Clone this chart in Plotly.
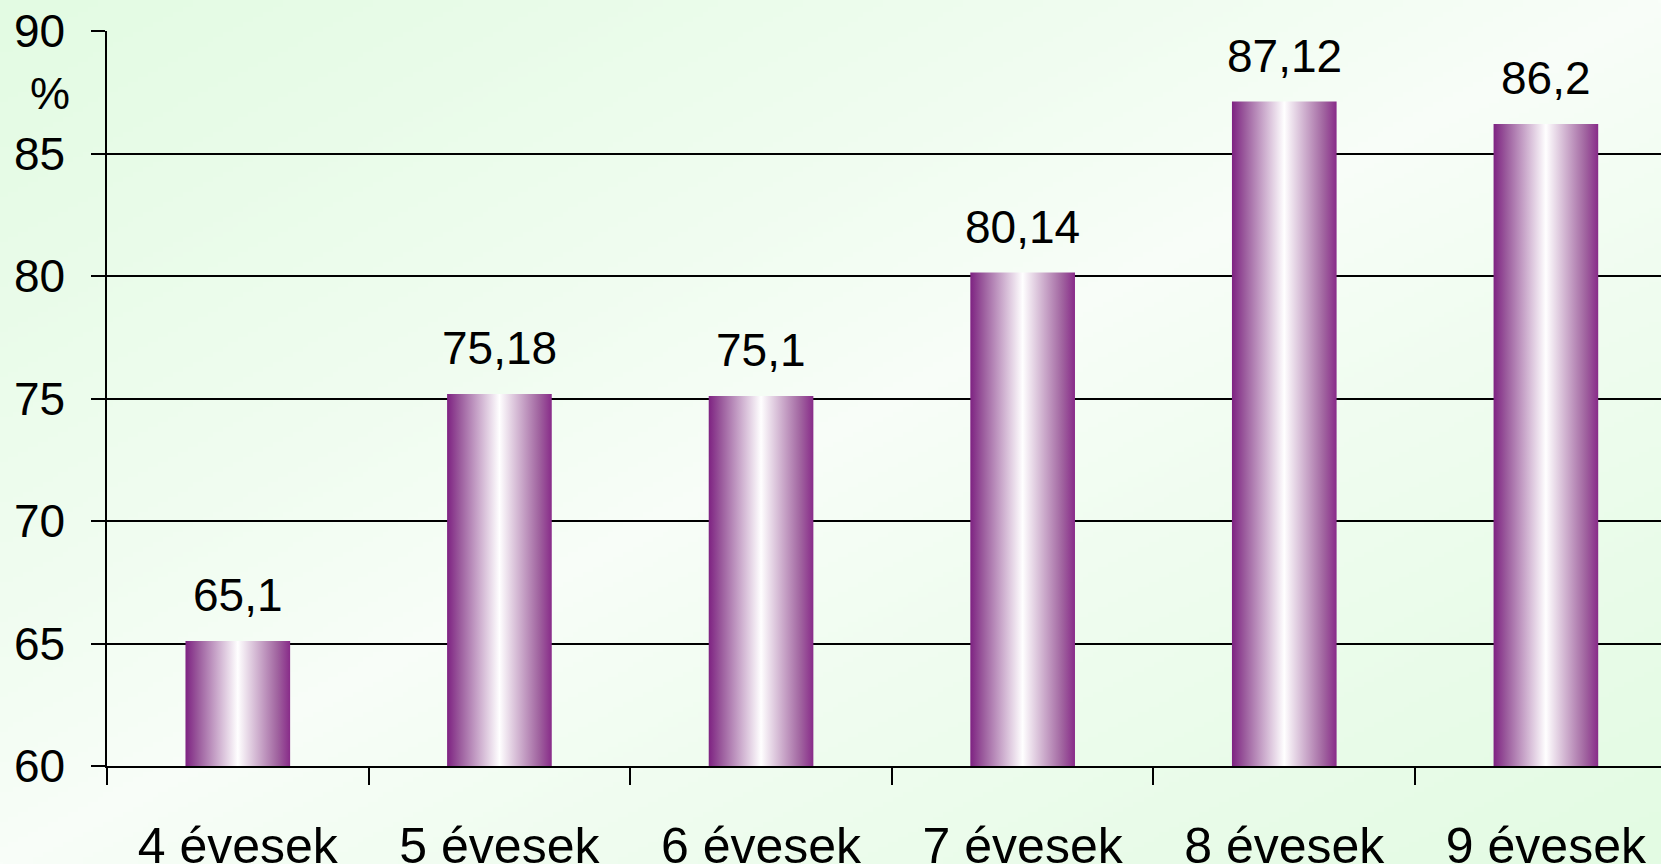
import base64
import struct
import zlib

import numpy as np
import plotly.graph_objects as go

# ---------------- data ----------------
categories = ["4 évesek", "5 évesek", "6 évesek", "7 évesek", "8 évesek", "9 évesek"]
values = [65.1, 75.18, 75.1, 80.14, 87.12, 86.2]
value_labels = ["65,1", "75,18", "75,1", "80,14", "87,12", "86,2"]
y_ticks = [60, 65, 70, 75, 80, 85, 90]
y_unit = "%"

# ---------------- style ----------------
W, H = 1661, 864
ML, MR, MT, MB = 107, 0, 31, 98
PW, PH = W - ML - MR, H - MT - MB
FONT = "Liberation Sans, Arial, Helvetica, sans-serif"
BAR_HALF = 0.2
X_RANGE_END = 5.44
BAR_SCALE = [
    [0.0, "#7e2282"],
    [0.12, "#9a5a9c"],
    [0.5, "#ffffff"],
    [0.88, "#a0639f"],
    [1.0, "#882b89"],
]
LINE_W = 1.5


def png_data_uri(arr):
    h, w, _ = arr.shape
    raw = b"".join(b"\x00" + arr[r].tobytes() for r in range(h))

    def chunk(tag, data):
        return (struct.pack(">I", len(data)) + tag + data
                + struct.pack(">I", zlib.crc32(tag + data) & 0xFFFFFFFF))

    png = (b"\x89PNG\r\n\x1a\n"
           + chunk(b"IHDR", struct.pack(">IIBBBBB", w, h, 8, 2, 0, 0, 0))
           + chunk(b"IDAT", zlib.compress(raw, 9))
           + chunk(b"IEND", b""))
    return "data:image/png;base64," + base64.b64encode(png).decode()


# background: diagonal light-green gradient, whitest along the anti-diagonal
gw, gh = 332, 173
u = np.linspace(0, 1, gw)[None, :]
v = np.linspace(0, 1, gh)[:, None]
d = np.abs((u + v) / 2 - 0.5) * 2
corner = np.array([227, 251, 227], dtype=float)
mid = np.array([249, 254, 249], dtype=float)
bg = (mid + (corner - mid) * (d ** 0.8)[..., None]).clip(0, 255).astype(np.uint8)
bg_uri = png_data_uri(bg)

fig = go.Figure()

base = y_ticks[0]
for i, (cat, val) in enumerate(zip(categories, values)):
    x0, x1 = i - BAR_HALF, i + BAR_HALF
    fig.add_trace(go.Scatter(
        x=[x0, x1, x1, x0, x0],
        y=[base, base, val, val, base],
        mode="lines",
        fill="toself",
        line=dict(width=0),
        fillgradient=dict(type="horizontal", colorscale=BAR_SCALE),
        hoverinfo="skip",
        showlegend=False,
        name=cat,
    ))

for i, (val, lab) in enumerate(zip(values, value_labels)):
    fig.add_annotation(
        x=i, y=val, xref="x", yref="y", text=lab, showarrow=False,
        yanchor="bottom", yshift=18,
        font=dict(size=46, family=FONT, color="black"),
    )

fig.add_annotation(
    xref="paper", yref="paper",
    x=(72 - ML) / PW, y=1 - (93 - MT) / PH,
    xanchor="right", yanchor="middle",
    text=y_unit, showarrow=False,
    font=dict(size=45, family=FONT, color="black"),
)

boundaries = [i - 0.5 for i in range(len(categories) + 1)]

fig.update_layout(
    width=W, height=H,
    margin=dict(l=ML, r=MR, t=MT, b=MB, pad=0, autoexpand=False),
    paper_bgcolor="#eefcee",
    plot_bgcolor="rgba(0,0,0,0)",
    showlegend=False,
    font=dict(family=FONT, color="black"),
    images=[dict(
        source=bg_uri, xref="paper", yref="paper",
        x=-ML / PW, y=1 + MT / PH, sizex=W / PW, sizey=H / PH,
        xanchor="left", yanchor="top", sizing="stretch", layer="below",
    )],
    xaxis=dict(
        range=[-0.5, X_RANGE_END],
        tickmode="array", tickvals=list(range(len(categories))), ticktext=categories,
        ticks="", showgrid=False, zeroline=False,
        showline=True, linecolor="black", linewidth=LINE_W,
        tickfont=dict(size=50, family=FONT, color="black"),
        ticklabelstandoff=35,
        minor=dict(tickmode="array", tickvals=boundaries, ticks="outside",
                   ticklen=17, tickwidth=LINE_W, tickcolor="black", showgrid=False),
        fixedrange=True,
    ),
    yaxis=dict(
        range=[y_ticks[0], y_ticks[-1]],
        tickmode="array", tickvals=y_ticks,
        ticks="outside", ticklen=14, tickwidth=LINE_W, tickcolor="black",
        showgrid=True, gridcolor="black", gridwidth=LINE_W,
        showline=True, linecolor="black", linewidth=LINE_W, zeroline=False,
        tickfont=dict(size=46, family=FONT, color="black"),
        ticklabelstandoff=17,
        fixedrange=True,
    ),
)

fig.write_html(
    "out.html",
    config={"displayModeBar": False},
    post_script="document.body.style.margin='0';document.body.style.overflow='hidden';",
)
